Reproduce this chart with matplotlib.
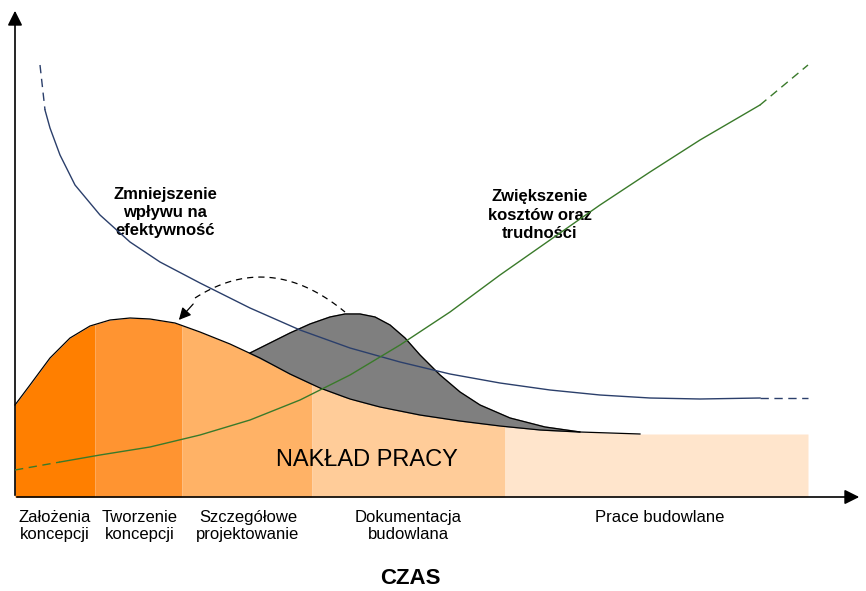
import matplotlib
matplotlib.use("Agg")
import matplotlib.pyplot as plt
import numpy as np

plt.rcParams['font.family'] = ['Liberation Sans', 'DejaVu Sans']

# conceptual curves (pixel-like coordinates)
effort_x = [15, 30, 50, 70, 90, 110, 130, 150, 175, 200, 230, 260, 290, 320, 350, 380, 420, 460, 500, 540, 580, 640, 808]
effort_y = [405, 385, 358, 338, 326, 320, 318, 319, 323, 332, 344, 358, 374, 388, 399, 407, 415, 421, 426, 430, 432, 434, 434]
hump_x = [250, 270, 290, 310, 330, 345, 360, 375, 390, 405, 420, 440, 460, 480, 510, 545, 580]
hump_y = [353, 343, 333, 324, 317, 314, 314, 317, 325, 338, 355, 375, 392, 405, 418, 427, 432]
blue_x = [45, 50, 60, 75, 100, 130, 160, 200, 250, 300, 350, 400, 450, 500, 550, 600, 650, 700, 760]
blue_y = [110, 128, 155, 185, 215, 242, 262, 283, 308, 330, 348, 362, 374, 383, 390, 395, 398, 399, 398]
green_x = [60, 100, 150, 200, 250, 300, 350, 400, 450, 500, 550, 600, 650, 700, 760]
green_y = [462, 455, 447, 435, 420, 400, 375, 345, 312, 275, 240, 205, 172, 140, 105]
phases = ["Założenia\nkoncepcji", "Tworzenie\nkoncepcji", "Szczegółowe\nprojektowanie", "Dokumentacja\nbudowlana", "Prace budowlane"]
phase_edges = [15, 95, 182, 312, 505, 808]
phase_label_x = [55, 140, 248, 408, 660]
phase_colors = ["#FF7F00", "#FF9431", "#FFB266", "#FFCC99", "#FFE5CC"]

fig = plt.figure(figsize=(8.66, 5.91), dpi=100)
ax = fig.add_axes([0, 0, 1, 1])
ax.set_xlim(0, 866); ax.set_ylim(591, 0); ax.axis('off')

ex = np.array(effort_x, float); ey = np.array(effort_y, float)
for i, c in enumerate(phase_colors):
    a, b = phase_edges[i], phase_edges[i + 1]
    xs = np.concatenate([[a], ex[(ex > a) & (ex < b)], [b]])
    ys = np.interp(xs, ex, ey)
    ax.fill_between(xs, ys, 497, color=c, lw=0, zorder=1)

# grey hump
hx = np.array(hump_x, float); hy = np.array(hump_y, float)
bx = hx[::-1]; by = np.interp(bx, ex, ey)
ax.fill(np.concatenate([hx, bx]), np.concatenate([hy, by]), color="#7F7F7F", zorder=2)
ax.plot(hx, hy, color="black", lw=0.9, zorder=3)
ax.plot(ex[ex <= 640], ey[ex <= 640], color="black", lw=0.9, zorder=3)

# blue curve
ax.plot(blue_x, blue_y, color="#2B3F6B", lw=1, zorder=4)
ax.plot([40, 45], [65, 110], color="#2B3F6B", lw=1, ls=(0, (6, 4)), zorder=4)
ax.plot([760, 808], [398, 398], color="#2B3F6B", lw=1, ls=(0, (6, 4)), zorder=4)
# green curve
ax.plot(green_x, green_y, color="#3A7A2A", lw=1, zorder=4)
ax.plot([15, 60], [470, 462], color="#3A7A2A", lw=1, ls=(0, (6, 4)), zorder=4)
ax.plot([760, 808], [105, 65], color="#3A7A2A", lw=1, ls=(0, (6, 4)), zorder=4)

# dashed arc with arrow
t = np.linspace(0, 1, 40)
arc_x = 195 + 150 * t
arc_y = 298 - 110 * t * (1 - t) + 14 * t
ax.plot(arc_x, arc_y, color="black", lw=0.9, ls=(0, (5, 4)), zorder=5)
ax.annotate("", xy=(177, 322), xytext=(195, 302),
            arrowprops=dict(arrowstyle="-|>", color="black", lw=0.9, mutation_scale=18), zorder=5)

# axes arrows
ax.annotate("", xy=(15, 8), xytext=(15, 498), arrowprops=dict(arrowstyle="-|>", color="black", lw=1.2, mutation_scale=22))
ax.annotate("", xy=(862, 497), xytext=(14, 497), arrowprops=dict(arrowstyle="-|>", color="black", lw=1.2, mutation_scale=22))

ax.text(165, 212, "Zmniejszenie\nwpływu na\nefektywność", ha='center', va='center', fontsize=12, fontweight='bold', linespacing=1.25)
ax.text(540, 215, "Zwiększenie\nkosztów oraz\ntrudności", ha='center', va='center', fontsize=12, fontweight='bold', linespacing=1.25)
ax.text(367, 460, "NAKŁAD PRACY", ha='center', va='center', fontsize=17)
for lx, lab in zip(phase_label_x, phases):
    ax.text(lx, 510, lab, ha='center', va='top', fontsize=12, linespacing=1.15)
ax.text(410, 578, "CZAS", ha='center', va='center', fontsize=16, fontweight='bold')

fig.savefig("out.png", dpi=100)
